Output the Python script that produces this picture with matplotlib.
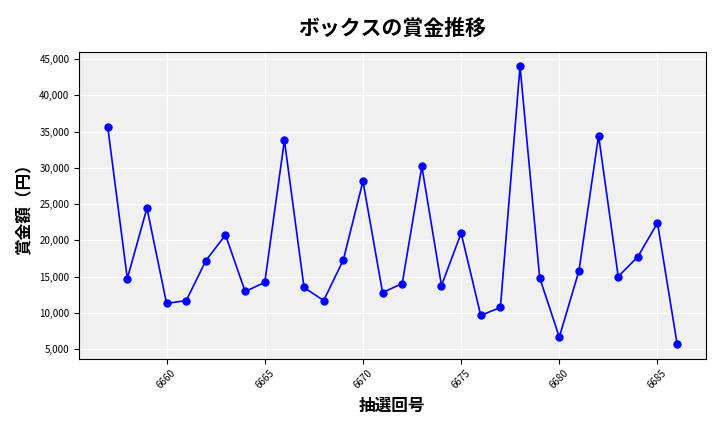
import matplotlib
matplotlib.use("Agg")
import matplotlib.pyplot as plt
from matplotlib.ticker import FuncFormatter

plt.rcParams["font.family"] = "Noto Sans CJK JP"

draws = list(range(6657, 6687))
prizes = [35700, 14730, 24450, 11300, 11700, 17200, 20750, 12950, 14200, 33800,
          13500, 11700, 17300, 28150, 12800, 14050, 30200, 13770, 21000, 9650,
          10750, 44000, 14850, 6650, 15800, 34450, 15000, 17750, 22400, 5700]

fig, ax = plt.subplots(figsize=(7.2, 4.32), dpi=100)
ax.set_facecolor("#f0f0f0")
ax.plot(draws, prizes, color="blue", marker="o", markersize=5, linewidth=1.2)
ax.grid(True, color="white", linewidth=1)
ax.set_axisbelow(True)
ax.set_title("ボックスの賞金推移", fontsize=15, fontweight="bold", pad=12)
ax.set_xlabel("抽選回号", fontsize=12, fontweight="bold")
ax.set_ylabel("賞金額（円）", fontsize=12, fontweight="bold")
ax.yaxis.set_major_formatter(FuncFormatter(lambda v, p: f"{int(v):,}"))
ax.set_xticks([6660, 6665, 6670, 6675, 6680, 6685])
ax.tick_params(axis="x", labelsize=7, rotation=45)
ax.tick_params(axis="y", labelsize=7)
ax.set_ylim(3700, 46000)
fig.subplots_adjust(left=0.11, right=0.98, top=0.88, bottom=0.17)
fig.savefig("out.png")
